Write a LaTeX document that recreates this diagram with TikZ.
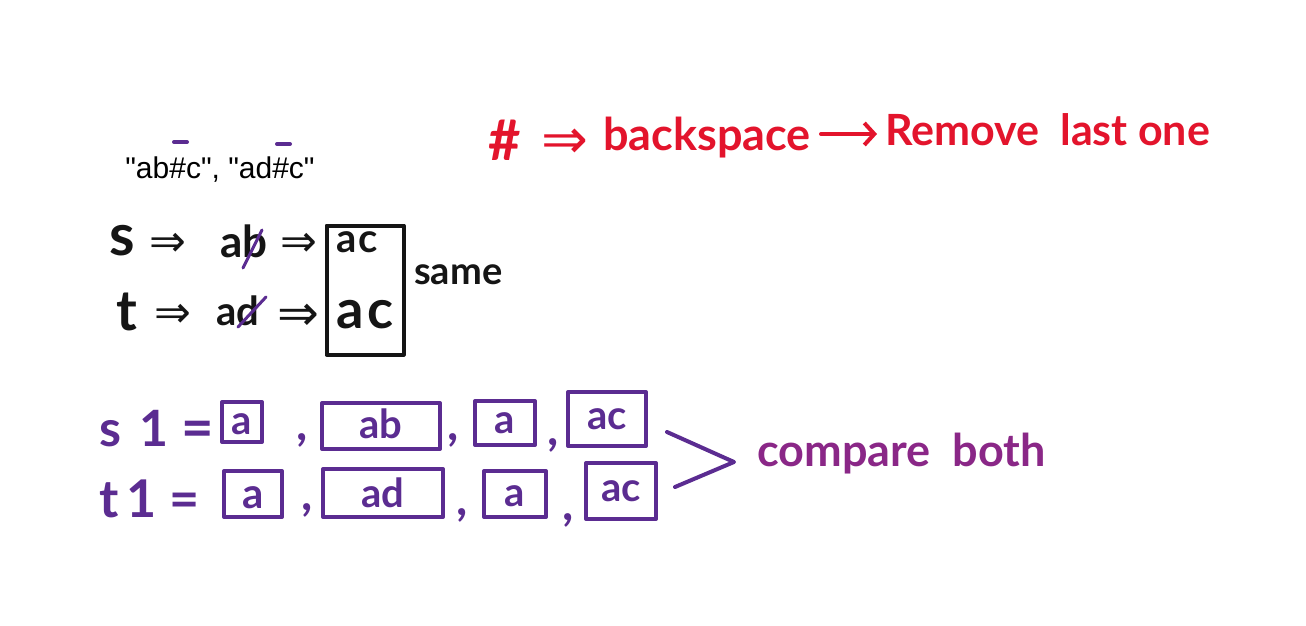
\documentclass[tikz,border=0pt]{standalone}
\usepackage{fontspec}
\usetikzlibrary{arrows.meta}
\setmainfont{Lato}
\newfontfamily\typed{Liberation Sans}
\newfontfamily\sym{DejaVu Sans}
\definecolor{inkred}{HTML}{E3142C}
\definecolor{inkpurple}{HTML}{5B2C91}
\definecolor{inkmagenta}{HTML}{8A2787}
\definecolor{inkblack}{HTML}{151515}
\tikzset{
  hand/.style={inner sep=0pt, anchor=base, font=\bfseries},
  blk/.style={hand, text=inkblack},
  rtext/.style={hand, text=inkred},
  pur/.style={hand, text=inkpurple},
  pbox/.style={draw=inkpurple, line width=4pt, line join=round},
  bbox/.style={draw=inkblack, line width=4pt, line join=round},
  slash/.style={draw=inkpurple, line width=3pt, line cap=round},
}
\newcommand{\fs}[1]{\fontsize{#1}{#1}\selectfont}
\begin{document}
\begin{tikzpicture}[x=1pt,y=-1pt]
\useasboundingbox[fill=white] (0,0) rectangle (1306,626);

% typed example
\node[inner sep=0pt, anchor=base, font=\typed\fs{30}] (ex) at (220,178) {"ab\#c", "ad\#c"};
\coordinate (m1a) at (174,142); \coordinate (m1b) at (187,142);
\coordinate (m2a) at (277,144); \coordinate (m2b) at (290,144);
\draw[slash, line width=4pt] (m1a) -- (m1b);
\draw[slash, line width=4pt] (m2a) -- (m2b);

% red note
\node[rtext, font=\bfseries\fs{56}] (hash) at (505,160) {\#};
\node[rtext, font=\sym\fs{56}] (imp) at (565,158) {⇒};
\node[rtext, font=\bfseries\fs{45}, anchor=base west] (bs) at (603,150) {backspace};
\node[rtext, font=\bfseries\fs{43}, anchor=base west] (rm) at (885,145) {Remove\ \ last\ one};
\coordinate (ra) at ([xshift=10pt]bs.east |- 0,134);
\draw[inkred, line width=4pt, line cap=round, -{Straight Barb[length=10pt,width=22pt,line width=4pt]}] (ra) -- ([xshift=-8pt]rm.west |- ra);

% black s / t rows
\node[blk, font=\bfseries\fs{58}] (s) at (122,255) {s};
\node[blk, font=\sym\fs{44}] (a1) at (168,256) {⇒};
\node[blk, font=\bfseries\fs{44}] (ab) at (244,257) {ab};
\node[blk, font=\sym\fs{44}] (a2) at (299,256) {⇒};
\node[blk, font=\bfseries\fs{56}] (t) at (127,330) {t};
\node[blk, font=\sym\fs{44}] (a3) at (173,327) {⇒};
\node[blk, font=\bfseries\fs{40}] (ad) at (238,325) {ad};
\node[blk, font=\sym\fs{50}] (a4) at (298,330) {⇒};
\draw[slash] (243,268) -- (262,230);
\draw[slash] (238,327) -- (266,297);
\node[bbox, minimum width=77pt, minimum height=129pt] (res) at (365,290) {};
\node[blk, font=\bfseries\fs{40}] (r1) at (357,252) {a\hspace{2pt}c};
\node[blk, font=\bfseries\fs{54}] (r2) at (365,328) {a\hspace{4pt}c};
\node[blk, font=\bfseries\fs{38}, anchor=base west] (same) at (414,284) {same};

% purple arrays
\node[pur, font=\bfseries\fs{50}, anchor=base west] (s1) at (99,446) {s\hspace{18pt}1};
\node[pur, font=\bfseries\fs{56}] (eq1) at (198,447) {=};
\node[pur, font=\bfseries\fs{52}, anchor=base west] (t1) at (99,517) {t\hspace{8pt}1};
\node[pur, font=\bfseries\fs{52}] (eq2) at (185,517) {=};

\node[pbox, minimum width=40pt, minimum height=40pt] (b1) at (242,422) {};
\node[pbox, minimum width=118pt, minimum height=46pt] (b2) at (381,426) {};
\node[pbox, minimum width=60pt, minimum height=44pt] (b3) at (505,423) {};
\node[pbox, minimum width=78pt, minimum height=54pt] (b4) at (607,419) {};
\node[pbox, minimum width=58pt, minimum height=46pt] (c1) at (253,494) {};
\node[pbox, minimum width=120pt, minimum height=48pt] (c2) at (383,493) {};
\node[pbox, minimum width=62pt, minimum height=46pt] (c3) at (515,494) {};
\node[pbox, minimum width=70pt, minimum height=56pt] (c4) at (621,491) {};

\node[pur, font=\bfseries\fs{40}] at (b1.center) [yshift=-12pt] {a};
\node[pur, font=\bfseries\fs{40}] at (b2.center) [yshift=-12pt] {ab};
\node[pur, font=\bfseries\fs{40}] at (b3.center) [yshift=-10pt] {a};
\node[pur, font=\bfseries\fs{40}] at (b4.center) [yshift=-10pt] {ac};
\node[pur, font=\bfseries\fs{42}] at (c1.center) [yshift=-14pt] {a};
\node[pur, font=\bfseries\fs{40}] at (c2.center) [yshift=-14pt] {ad};
\node[pur, font=\bfseries\fs{40}] at (c3.center) [yshift=-12pt] {a};
\node[pur, font=\bfseries\fs{40}] at (c4.center) [yshift=-10pt] {ac};

\node[pur, font=\bfseries\fs{48}] at (302,440) {,};
\node[pur, font=\bfseries\fs{48}] at (453,440) {,};
\node[pur, font=\bfseries\fs{48}] at (553,445) {,};
\node[pur, font=\bfseries\fs{48}] at (307,510) {,};
\node[pur, font=\bfseries\fs{48}] at (462,515) {,};
\node[pur, font=\bfseries\fs{48}] at (568,520) {,};

% brace and compare
\coordinate (g1) at (667,432);
\coordinate (g2) at (734,462);
\coordinate (g3) at (675,487);
\draw[inkpurple, line width=4pt, line cap=round, line join=round] (g1) -- (g2) -- (g3);
\node[hand, text=inkmagenta, font=\bfseries\fs{45}, anchor=base west] (cmp) at (757,466) {compare\ \ both};
\end{tikzpicture}
\end{document}
